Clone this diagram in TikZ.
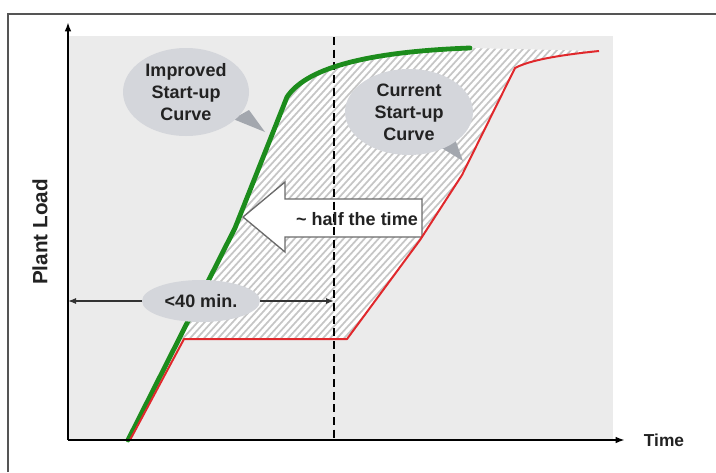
\documentclass[tikz,border=0pt]{standalone}
\usepackage{fontspec}
\setmainfont{Liberation Sans}
\usetikzlibrary{arrows.meta,shapes.geometric}
\definecolor{panel}{HTML}{EBEBEB}
\definecolor{callfill}{HTML}{D4D6DB}
\definecolor{tailcol}{HTML}{A3A7AE}
\definecolor{curgreen}{HTML}{1C8C1C}
\definecolor{curred}{HTML}{E0282C}
\definecolor{hatchcol}{HTML}{C6C6C6}
\definecolor{framecol}{HTML}{555555}
\definecolor{txt}{HTML}{222222}
\definecolor{arrowedge}{HTML}{6A6A6A}
\begin{document}
\begin{tikzpicture}[x=0.75pt,y=-0.75pt,
  lbl/.style={font=\fontsize{13.5}{16.5}\selectfont\bfseries, text=txt},
  callout/.style={ellipse, fill=callfill, inner sep=0pt, align=center, lbl},
  axisline/.style={black, line width=1.5pt, -{Latex[length=7pt,width=5pt]}},
  measure/.style={black!80, line width=0.9pt, {Latex[length=6pt,width=4.5pt]}-{Latex[length=6pt,width=4.5pt]}},
  hatchline/.style={hatchcol, line width=1.3pt},
  greencurve/.style={curgreen, line width=3.6pt, line join=round, line cap=round},
  redcurve/.style={curred, line width=1.5pt, line join=round},
  blockarrow/.style={fill=white, draw=arrowedge, line width=1pt, line join=miter},
  dashline/.style={black, line width=1pt, dash pattern=on 6pt off 3.5pt}]
\useasboundingbox (0,0) rectangle (716,472);
\fill[white] (0,0) rectangle (716,472);
\draw[framecol, line width=1.1pt] (8,472) -- (8,14) -- (716,14);
\fill[panel] (68,36) rectangle (613,440);

% hatched region between the curves
\begin{scope}
  \clip (179,339) -- (235,228) -- (287,97) .. controls (305,70) and (360,52) .. (470,48)
    -- (599,51) .. controls (560,55) and (530,60) .. (515,68)
    -- (462,175) -- (420,240) -- (347,339) -- cycle;
  \fill[white] (0,0) rectangle (716,472);
  \foreach \k in {-320,-313,...,700} \draw[hatchline] (\k,445) -- ++(440,-484);
\end{scope}

% coordinates
\coordinate (O) at (68,440);
\coordinate (Ytop) at (68,22);
\coordinate (Xend) at (625,440);
\coordinate (Dtop) at (334,37);
\coordinate (Dbot) at (334,440);
\coordinate (Mleft) at (68,301);
\coordinate (Mright) at (334,301);

% block arrow
\draw[blockarrow] (243,217) -- (285,182) -- (285,199) -- (422,199) -- (422,237) -- (285,237) -- (285,252) -- cycle;

% dashed line
\draw[dashline] (Dtop) -- (Dbot);

% curves
\draw[greencurve] (128,440) -- (235,228) -- (287,97) .. controls (305,70) and (360,52) .. (470,48);
\draw[redcurve] (130,440) -- (184,339) -- (347,339) -- (420,240) -- (462,175) -- (515,68)
   .. controls (530,60) and (560,55) .. (599,51);

% axes
\draw[axisline] (O) -- (Ytop);
\draw[axisline] (O) -- (Xend);

% measure arrow
\draw[measure] (Mleft) -- (Mright);

% callout tails
\fill[tailcol] (233,119) -- (265,132) -- (249,110) -- cycle;
\fill[tailcol] (440,147) -- (463,161) -- (455,139) -- cycle;

% callouts
\node[callout, minimum width=94.5pt, minimum height=66pt] (imp) at (186,92) {Improved\\Start-up\\Curve};
\node[callout, minimum width=96pt, minimum height=64.5pt] (cur) at (409,112) {Current\\Start-up\\Curve};
\node[callout, minimum width=88.5pt, minimum height=31.5pt] (min) at (201,301) {<40 min.};

% arrow text
\node[lbl] (half) at (357,219) {\textasciitilde{} half the time};

% axis labels
\node[lbl, font=\fontsize{15.5}{18}\selectfont\bfseries, rotate=90] (yl) at (40,232) {Plant Load};
\node[lbl, font=\fontsize{13}{16}\selectfont\bfseries] (xl) at (664,440) {Time};
\end{tikzpicture}
\end{document}
